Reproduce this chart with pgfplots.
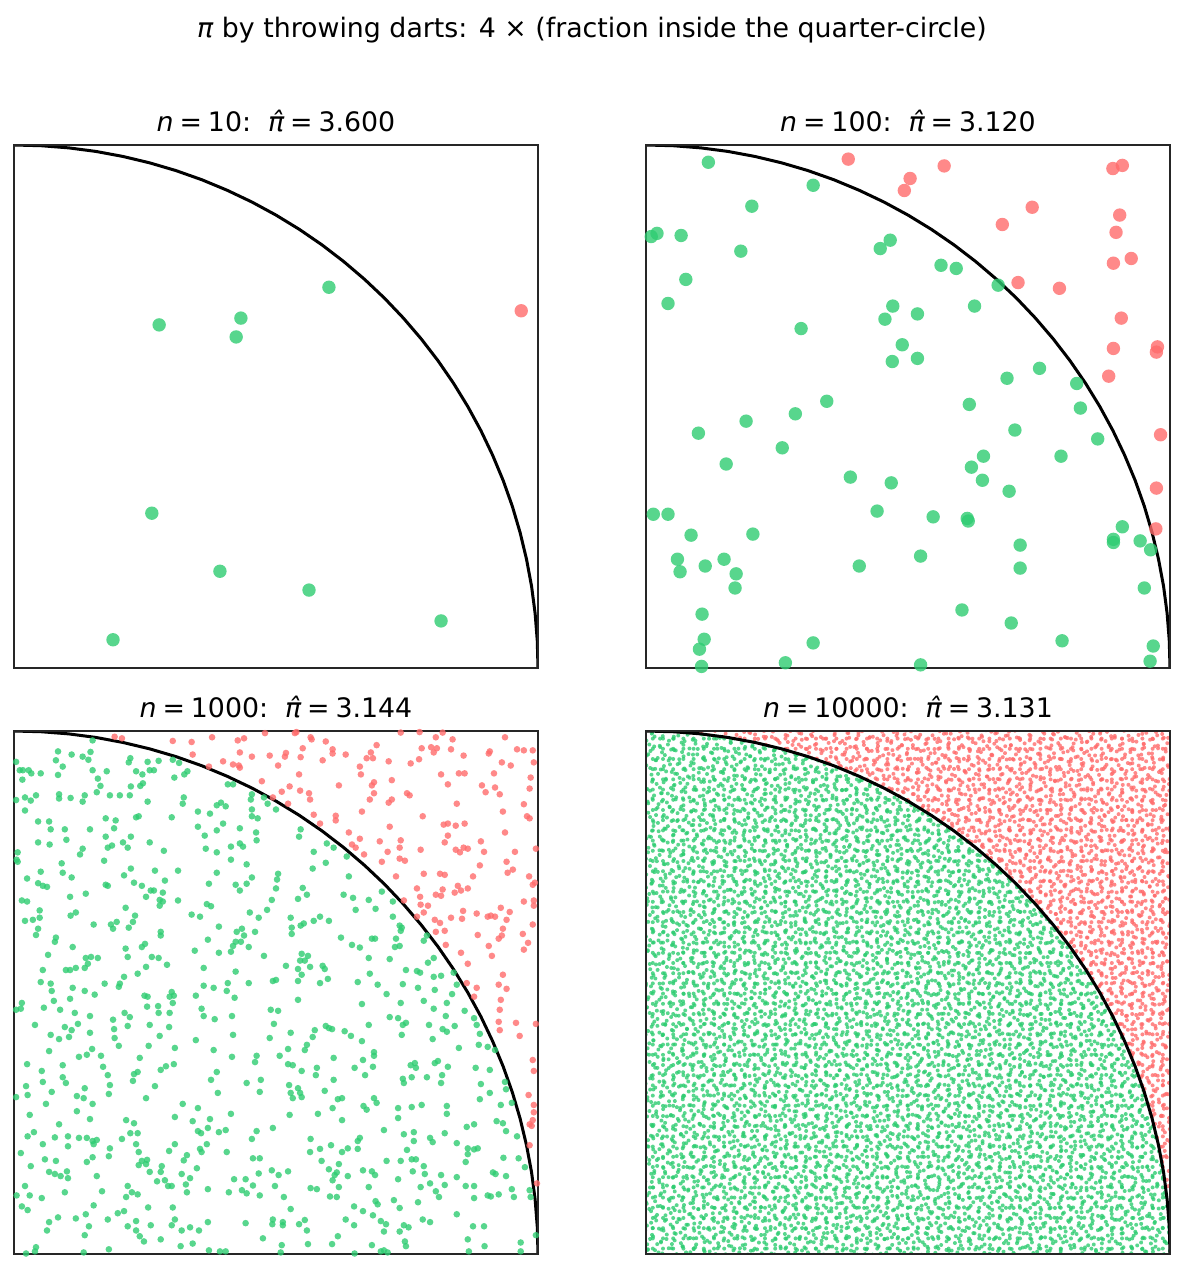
\documentclass[border=0pt]{standalone}
\usepackage{fontspec}
\setmainfont{DejaVu Sans}
\usepackage{pgfplots}
\usepackage{pgfplotstable}
\pgfplotsset{compat=1.18}
\usetikzlibrary{patterns.meta}
\definecolor{dgreen}{HTML}{2ECC71}
\definecolor{dred}{HTML}{FF6B6B}

\pgfplotstableread{
x y
1.0000 0.0000
0.9986 0.0523
0.9945 0.1045
0.9877 0.1564
0.9781 0.2079
0.9659 0.2588
0.9511 0.3090
0.9336 0.3584
0.9135 0.4067
0.8910 0.4540
0.8660 0.5000
0.8387 0.5446
0.8090 0.5878
0.7771 0.6293
0.7431 0.6691
0.7071 0.7071
0.6691 0.7431
0.6293 0.7771
0.5878 0.8090
0.5446 0.8387
0.5000 0.8660
0.4540 0.8910
0.4067 0.9135
0.3584 0.9336
0.3090 0.9511
0.2588 0.9659
0.2079 0.9781
0.1564 0.9877
0.1045 0.9945
0.0523 0.9986
0.0000 1.0000
}\arctable

\pgfplotstableread{
x y
1.0000 0.0000
0.9986 0.0523
0.9945 0.1045
0.9877 0.1564
0.9781 0.2079
0.9659 0.2588
0.9511 0.3090
0.9336 0.3584
0.9135 0.4067
0.8910 0.4540
0.8660 0.5000
0.8387 0.5446
0.8090 0.5878
0.7771 0.6293
0.7431 0.6691
0.7071 0.7071
0.6691 0.7431
0.6293 0.7771
0.5878 0.8090
0.5446 0.8387
0.5000 0.8660
0.4540 0.8910
0.4067 0.9135
0.3584 0.9336
0.3090 0.9511
0.2588 0.9659
0.2079 0.9781
0.1564 0.9877
0.1045 0.9945
0.0523 0.9986
0.0000 1.0000
0.0000 0.0000
}\insidetable

\pgfplotstableread{
x y
1.0000 0.0000
0.9986 0.0523
0.9945 0.1045
0.9877 0.1564
0.9781 0.2079
0.9659 0.2588
0.9511 0.3090
0.9336 0.3584
0.9135 0.4067
0.8910 0.4540
0.8660 0.5000
0.8387 0.5446
0.8090 0.5878
0.7771 0.6293
0.7431 0.6691
0.7071 0.7071
0.6691 0.7431
0.6293 0.7771
0.5878 0.8090
0.5446 0.8387
0.5000 0.8660
0.4540 0.8910
0.4067 0.9135
0.3584 0.9336
0.3090 0.9511
0.2588 0.9659
0.2079 0.9781
0.1564 0.9877
0.1045 0.9945
0.0523 0.9986
0.0000 1.0000
1.0000 1.0000
}\outsidetable

\pgfplotsset{
  dart/.style={width=262pt, height=261.5pt, scale only axis,
    xmin=0, xmax=1, ymin=0, ymax=1, xtick=\empty, ytick=\empty,
    axis on top, axis line style={line width=0.6pt, black!85},
    anchor=north west},
  quarter/.style={black, line width=1.5pt, no marks},
  gdot/.style={only marks, mark=*, mark size=#1, color=dgreen,
    mark options={solid, fill=dgreen, fill opacity=0.8, draw opacity=0, line width=0pt}},
  rdot/.style={only marks, mark=*, mark size=#1, color=dred,
    mark options={solid, fill=dred, fill opacity=0.8, draw opacity=0, line width=0pt}},
  cloud/.style n args={5}{draw=none, fill opacity=0.8, pattern color=#1,
    pattern={Dots[radius=1pt, distance=#2, angle=#3, xshift=#4, yshift=#5]}},
}

\newcommand{\ttl}[2]{\fontsize{13.4}{15}\selectfont{\itshape n}\hspace{0.22em}=\hspace{0.22em}#1:\ \ {\itshape π^^^^0302}\hspace{0.22em}=\hspace{0.22em}#2}

\begin{document}
\begin{tikzpicture}
\path[use as bounding box] (0,0) rectangle (592pt,-634.5pt);

\node[anchor=base] at (296pt,-18.5pt) {\fontsize{13.4}{15}\selectfont{\itshape π} by throwing darts: 4 × (fraction inside the quarter-circle)};
\node[anchor=base] at (138pt,-65.5pt) {\ttl{10}{3.600}};
\node[anchor=base] at (454pt,-65.5pt) {\ttl{100}{3.120}};
\node[anchor=base] at (138pt,-358.5pt) {\ttl{1000}{3.144}};
\node[anchor=base] at (454pt,-358.5pt) {\ttl{10000}{3.131}};

% ---------------- n = 10
\begin{axis}[dart, at={(7pt,-72.5pt)}]
\addplot[gdot=3.35pt] coordinates {(0.277,0.656) (0.433,0.669) (0.424,0.633) (0.601,0.728) (0.263,0.296) (0.393,0.185) (0.563,0.149) (0.815,0.090) (0.189,0.054)};
\addplot[rdot=3.35pt] coordinates {(0.968,0.683)};
\addplot[quarter] table {\arctable};
\end{axis}

% ---------------- n = 100
\begin{axis}[dart, at={(323pt,-72.5pt)}]
\addplot[gdot=3.35pt] coordinates {
(0.119,0.967) (0.319,0.923) (0.202,0.883) (0.010,0.825) (0.021,0.831) (0.067,0.827) (0.181,0.797) (0.076,0.743) (0.042,0.697) (0.447,0.802)
(0.466,0.818) (0.563,0.770) (0.592,0.764) (0.672,0.732) (0.627,0.692) (0.471,0.692) (0.456,0.667) (0.518,0.677) (0.296,0.649) (0.489,0.618)
(0.470,0.586) (0.518,0.592) (0.751,0.573) (0.689,0.554) (0.822,0.544) (0.345,0.510) (0.617,0.504) (0.829,0.497) (0.285,0.486) (0.191,0.472)
(0.100,0.449) (0.704,0.455) (0.862,0.438) (0.260,0.421) (0.153,0.390) (0.644,0.405) (0.621,0.384) (0.792,0.405) (0.642,0.359) (0.693,0.338)
(0.390,0.365) (0.468,0.354) (0.441,0.300) (0.548,0.289) (0.613,0.286) (0.615,0.281) (0.014,0.294) (0.042,0.294) (0.086,0.254) (0.204,0.256)
(0.909,0.270) (0.892,0.246) (0.892,0.240) (0.943,0.243) (0.963,0.226) (0.714,0.235) (0.524,0.214) (0.060,0.208) (0.113,0.195) (0.149,0.208)
(0.065,0.184) (0.172,0.180) (0.170,0.153) (0.407,0.195) (0.714,0.191) (0.951,0.153) (0.107,0.103) (0.603,0.111) (0.697,0.086) (0.111,0.055)
(0.102,0.036) (0.319,0.048) (0.794,0.052) (0.968,0.042) (0.106,0.003) (0.266,0.010) (0.524,0.006) (0.962,0.013)};
\addplot[rdot=3.35pt] coordinates {
(0.386,0.973) (0.504,0.936) (0.493,0.913) (0.569,0.960) (0.891,0.955) (0.909,0.961) (0.737,0.881) (0.680,0.848) (0.904,0.866) (0.897,0.833)
(0.892,0.774) (0.926,0.783) (0.710,0.737) (0.789,0.726) (0.907,0.669) (0.892,0.611) (0.976,0.614) (0.974,0.604) (0.883,0.558) (0.982,0.446)
(0.974,0.344) (0.973,0.266)};
\addplot[quarter] table {\arctable};
\end{axis}

% ---------------- n = 1000
\begin{axis}[dart, at={(7pt,-365.5pt)}]
\addplot[gdot=1.65pt] coordinates {
(0.150,0.982) (0.084,0.961) (0.110,0.955) (0.146,0.960) (0.131,0.951) (0.142,0.945) (0.080,0.944) (0.093,0.932) (0.004,0.941) (0.222,0.948)
(0.219,0.940) (0.255,0.941) (0.276,0.943) (0.303,0.945) (0.315,0.939) (0.011,0.925) (0.017,0.925) (0.028,0.925) (0.033,0.919) (0.016,0.907)
(0.051,0.919) (0.084,0.916) (0.150,0.925) (0.177,0.923) (0.233,0.923) (0.245,0.917) (0.259,0.925) (0.267,0.925) (0.325,0.917) (0.306,0.911)
(0.160,0.909) (0.165,0.895) (0.158,0.883) (0.223,0.894) (0.241,0.895) (0.246,0.900) (0.004,0.868) (0.021,0.873) (0.032,0.867) (0.042,0.877)
(0.021,0.848) (0.086,0.879) (0.086,0.871) (0.108,0.872) (0.135,0.877) (0.131,0.865) (0.183,0.877) (0.202,0.877) (0.221,0.877) (0.255,0.865)
(0.324,0.873) (0.322,0.861) (0.233,0.835) (0.238,0.837) (0.301,0.835) (0.175,0.833) (0.194,0.829) (0.046,0.827) (0.067,0.827) (0.070,0.812)
(0.097,0.812) (0.145,0.812) (0.191,0.814) (0.100,0.792) (0.175,0.798) (0.223,0.798) (0.046,0.787) (0.068,0.783) (0.131,0.775) (0.126,0.764)
(0.179,0.777) (0.187,0.781) (0.208,0.787) (0.217,0.777) (0.259,0.787) (0.286,0.771) (0.007,0.768) (0.005,0.754) (0.007,0.750) (0.172,0.752)
(0.091,0.747) (0.093,0.729) (0.051,0.731) (0.025,0.718) (0.110,0.720) (0.210,0.724) (0.223,0.737) (0.269,0.733) (0.313,0.733) (0.288,0.714)
(0.046,0.709) (0.055,0.704) (0.063,0.702) (0.175,0.706) (0.179,0.704) (0.229,0.710) (0.244,0.704) (0.261,0.695) (0.267,0.695) (0.284,0.691)
(0.137,0.689) (0.107,0.683) (0.252,0.683) (0.278,0.677) (0.284,0.674) (0.313,0.676) (0.015,0.676) (0.025,0.674)
(0.331,0.923) (0.408,0.898) (0.418,0.898) (0.454,0.879) (0.452,0.869) (0.477,0.873) (0.484,0.861) (0.500,0.850) (0.387,0.858) (0.395,0.863)
(0.404,0.856) (0.351,0.846) (0.374,0.842) (0.454,0.850) (0.454,0.837) (0.465,0.833) (0.351,0.817) (0.399,0.823) (0.387,0.810) (0.431,0.814)
(0.364,0.800) (0.462,0.806) (0.463,0.791) (0.547,0.812) (0.544,0.798) (0.366,0.775) (0.414,0.779) (0.431,0.785) (0.437,0.779) (0.387,0.768)
(0.414,0.754) (0.444,0.745) (0.597,0.785) (0.610,0.777) (0.572,0.769) (0.635,0.760) (0.595,0.748) (0.570,0.737) (0.387,0.729) (0.504,0.727)
(0.502,0.716) (0.454,0.720) (0.372,0.708) (0.423,0.706) (0.444,0.708) (0.431,0.695) (0.500,0.699) (0.551,0.700) (0.559,0.687) (0.639,0.722)
(0.629,0.687) (0.647,0.681) (0.492,0.677) (0.542,0.679) (0.702,0.693) (0.677,0.677) (0.723,0.674)
(0.049,0.657) (0.049,0.643) (0.036,0.639) (0.021,0.637) (0.046,0.622) (0.042,0.610) (0.080,0.605) (0.078,0.597) (0.108,0.647) (0.118,0.653)
(0.152,0.630) (0.213,0.662) (0.231,0.647) (0.227,0.635) (0.196,0.635) (0.185,0.630) (0.189,0.622) (0.219,0.624) (0.278,0.666) (0.280,0.616)
(0.280,0.609) (0.112,0.587) (0.065,0.572) (0.213,0.584) (0.217,0.568) (0.244,0.587) (0.250,0.593) (0.263,0.568) (0.276,0.566) (0.292,0.553)
(0.137,0.566) (0.147,0.568) (0.160,0.566) (0.141,0.555) (0.135,0.547) (0.118,0.547) (0.099,0.543) (0.107,0.543) (0.055,0.543) (0.252,0.549)
(0.236,0.536) (0.210,0.530) (0.051,0.520) (0.070,0.517) (0.072,0.503) (0.112,0.509) (0.135,0.503) (0.154,0.496) (0.173,0.517) (0.202,0.517)
(0.200,0.511) (0.301,0.501) (0.297,0.492) (0.305,0.494) (0.249,0.494) (0.255,0.492) (0.303,0.480) (0.107,0.488) (0.076,0.484) (0.015,0.480)
(0.013,0.469) (0.004,0.467) (0.057,0.471) (0.088,0.467) (0.254,0.473) (0.275,0.474) (0.276,0.461) (0.297,0.461) (0.116,0.461) (0.145,0.455)
(0.211,0.461) (0.221,0.453) (0.189,0.448) (0.040,0.438) (0.097,0.434) (0.122,0.440) (0.110,0.428) (0.217,0.436) (0.191,0.430) (0.259,0.438)
(0.296,0.434) (0.070,0.419) (0.086,0.411) (0.105,0.415) (0.145,0.423) (0.192,0.413) (0.278,0.417) (0.200,0.398) (0.257,0.398) (0.307,0.394)
(0.067,0.388) (0.149,0.392) (0.139,0.381) (0.124,0.377) (0.166,0.379) (0.240,0.375) (0.025,0.363) (0.093,0.361) (0.170,0.358) (0.290,0.359)
(0.305,0.363) (0.053,0.350) (0.280,0.352) (0.236,0.348) (0.229,0.344) (0.093,0.338) (0.179,0.342)
(0.368,0.669) (0.376,0.665) (0.339,0.649) (0.355,0.645) (0.450,0.653) (0.467,0.643) (0.483,0.658) (0.528,0.643) (0.652,0.658) (0.391,0.626)
(0.425,0.616) (0.435,0.622) (0.439,0.609) (0.460,0.616) (0.530,0.624) (0.530,0.612) (0.547,0.628) (0.553,0.632) (0.572,0.637) (0.584,0.645)
(0.601,0.637) (0.370,0.601) (0.423,0.597) (0.433,0.597) (0.418,0.589) (0.414,0.578) (0.448,0.587) (0.345,0.580) (0.391,0.576) (0.477,0.570)
(0.624,0.605) (0.645,0.591) (0.660,0.586) (0.549,0.574) (0.561,0.570) (0.546,0.561) (0.555,0.561) (0.565,0.549) (0.542,0.545) (0.549,0.534)
(0.542,0.522) (0.519,0.551) (0.589,0.551) (0.593,0.545) (0.599,0.526) (0.584,0.518) (0.362,0.547) (0.423,0.540) (0.408,0.518) (0.448,0.518)
(0.494,0.522) (0.500,0.524) (0.656,0.520) (0.362,0.513) (0.381,0.509) (0.406,0.503) (0.347,0.494) (0.421,0.490) (0.542,0.486) (0.358,0.469)
(0.362,0.455) (0.383,0.449) (0.416,0.455) (0.490,0.467) (0.504,0.465) (0.496,0.440) (0.595,0.436) (0.601,0.432) (0.607,0.430) (0.574,0.428)
(0.570,0.415) (0.528,0.423) (0.631,0.426) (0.643,0.417) (0.347,0.409) (0.418,0.419) (0.488,0.413) (0.559,0.400) (0.555,0.390) (0.523,0.392)
(0.381,0.390) (0.416,0.377) (0.463,0.379) (0.460,0.367) (0.507,0.379) (0.610,0.375) (0.523,0.363) (0.532,0.361) (0.578,0.356) (0.549,0.350)
(0.576,0.342) (0.650,0.356) (0.387,0.348)
(0.690,0.660) (0.723,0.645) (0.736,0.628) (0.740,0.624) (0.738,0.618) (0.683,0.603) (0.689,0.603) (0.729,0.603) (0.727,0.587) (0.736,0.589)
(0.782,0.599) (0.788,0.609) (0.717,0.564) (0.677,0.566) (0.790,0.557) (0.801,0.566) (0.748,0.543) (0.769,0.541) (0.775,0.538) (0.679,0.536)
(0.801,0.530) (0.815,0.532) (0.839,0.538) (0.742,0.516) (0.694,0.515) (0.771,0.509) (0.803,0.505) (0.845,0.515) (0.836,0.497) (0.711,0.497)
(0.664,0.478) (0.738,0.480) (0.782,0.484) (0.826,0.480) (0.801,0.469) (0.860,0.465) (0.717,0.453) (0.733,0.451) (0.824,0.455) (0.878,0.451)
(0.677,0.438) (0.742,0.438) (0.748,0.442) (0.792,0.438) (0.841,0.436) (0.883,0.438) (0.818,0.430) (0.826,0.425) (0.740,0.419) (0.889,0.421)
(0.664,0.407) (0.799,0.411) (0.849,0.394) (0.887,0.400) (0.904,0.396) (0.918,0.390) (0.687,0.386) (0.687,0.379) (0.666,0.371) (0.685,0.358)
(0.757,0.361) (0.765,0.365) (0.767,0.356) (0.803,0.365) (0.809,0.369) (0.828,0.358) (0.881,0.356) (0.908,0.352) (0.670,0.342) (0.759,0.338)
(0.788,0.338) (0.817,0.342)
(0.055,0.329) (0.023,0.321) (0.099,0.327) (0.227,0.331) (0.183,0.323) (0.135,0.317) (0.072,0.310) (0.026,0.304) (0.004,0.300) (0.120,0.302)
(0.133,0.298) (0.181,0.306) (0.269,0.321) (0.252,0.298) (0.061,0.287) (0.150,0.287) (0.322,0.287) (0.120,0.273) (0.030,0.266) (0.145,0.258)
(0.214,0.256) (0.229,0.250) (0.307,0.262) (0.086,0.248) (0.026,0.225) (0.038,0.233) (0.078,0.223) (0.103,0.225) (0.055,0.210) (0.103,0.206)
(0.124,0.222) (0.139,0.222) (0.150,0.216) (0.158,0.218) (0.152,0.210) (0.222,0.231) (0.236,0.231) (0.206,0.220) (0.233,0.210) (0.183,0.202)
(0.181,0.187) (0.238,0.195) (0.307,0.210) (0.296,0.197) (0.013,0.193) (0.059,0.181) (0.080,0.178) (0.150,0.185) (0.139,0.176) (0.244,0.178)
(0.254,0.180) (0.238,0.170) (0.252,0.172) (0.324,0.179) (0.032,0.168) (0.282,0.168) (0.259,0.157) (0.280,0.157) (0.067,0.157) (0.078,0.153)
(0.089,0.149) (0.101,0.158) (0.103,0.145) (0.158,0.149) (0.320,0.153) (0.273,0.139) (0.288,0.141) (0.294,0.130) (0.301,0.130) (0.328,0.133)
(0.021,0.130) (0.217,0.130) (0.097,0.118) (0.005,0.112) (0.030,0.112) (0.168,0.120) (0.225,0.118) (0.236,0.114) (0.214,0.109) (0.053,0.107)
(0.015,0.091) (0.026,0.084) (0.152,0.093) (0.256,0.089) (0.303,0.089) (0.198,0.078) (0.210,0.082) (0.137,0.076) (0.084,0.070) (0.118,0.068)
(0.179,0.066) (0.067,0.061) (0.233,0.063) (0.307,0.066) (0.143,0.053) (0.217,0.053) (0.261,0.055) (0.301,0.055) (0.063,0.045) (0.233,0.045)
(0.320,0.045) (0.135,0.036) (0.240,0.034) (0.248,0.024) (0.280,0.028) (0.318,0.015) (0.042,0.013) (0.040,0.005) (0.023,0.001) (0.133,0.003)
(0.181,0.009)
(0.376,0.333) (0.444,0.327) (0.471,0.333) (0.469,0.310) (0.389,0.308) (0.525,0.323) (0.542,0.317) (0.528,0.308) (0.546,0.308) (0.532,0.298)
(0.549,0.300) (0.610,0.333) (0.593,0.312) (0.618,0.296) (0.626,0.298) (0.608,0.279) (0.580,0.268) (0.626,0.256) (0.351,0.279) (0.414,0.268)
(0.526,0.266) (0.341,0.254) (0.374,0.258) (0.370,0.241) (0.351,0.235) (0.357,0.231) (0.391,0.233) (0.404,0.237) (0.494,0.241) (0.463,0.235)
(0.454,0.220) (0.368,0.210) (0.355,0.201) (0.358,0.195) (0.406,0.195) (0.330,0.189) (0.566,0.220) (0.565,0.195) (0.584,0.201) (0.605,0.208)
(0.637,0.202) (0.626,0.195) (0.656,0.216) (0.660,0.222) (0.656,0.201) (0.456,0.183) (0.469,0.183) (0.587,0.178) (0.620,0.172) (0.601,0.162)
(0.616,0.156) (0.612,0.151) (0.608,0.141) (0.637,0.149) (0.349,0.164) (0.492,0.160) (0.523,0.158) (0.467,0.154) (0.505,0.151) (0.420,0.143)
(0.442,0.143) (0.336,0.145) (0.456,0.131) (0.498,0.130) (0.620,0.128) (0.566,0.126) (0.578,0.124) (0.370,0.124) (0.410,0.118) (0.435,0.122)
(0.444,0.116) (0.469,0.112) (0.515,0.109) (0.330,0.118) (0.603,0.110) (0.616,0.109) (0.649,0.091) (0.528,0.086) (0.370,0.061) (0.442,0.059)
(0.494,0.066) (0.493,0.057) (0.513,0.061) (0.513,0.055) (0.544,0.057) (0.555,0.065) (0.559,0.045) (0.633,0.066) (0.649,0.055) (0.336,0.051)
(0.353,0.045) (0.475,0.030) (0.618,0.034) (0.341,0.020) (0.511,0.017) (0.561,0.019) (0.607,0.019) (0.372,0.007) (0.393,0.005) (0.404,0.005)
(0.509,0.003) (0.650,0.001)
(0.742,0.335) (0.744,0.327) (0.815,0.327) (0.891,0.325) (0.908,0.308) (0.937,0.329) (0.939,0.315) (0.687,0.298) (0.692,0.289) (0.667,0.283)
(0.673,0.276) (0.733,0.279) (0.733,0.260) (0.759,0.281) (0.778,0.285) (0.826,0.283) (0.826,0.268) (0.889,0.296) (0.929,0.285) (0.950,0.289)
(0.706,0.237) (0.744,0.229) (0.763,0.233) (0.763,0.216) (0.864,0.243) (0.878,0.248) (0.921,0.254) (0.933,0.250) (0.939,0.235) (0.960,0.225)
(0.822,0.231) (0.794,0.222) (0.799,0.214) (0.845,0.212) (0.750,0.199) (0.866,0.202) (0.878,0.200) (0.885,0.202) (0.866,0.191) (0.862,0.176)
(0.711,0.178) (0.738,0.178) (0.759,0.181) (0.767,0.181) (0.782,0.168) (0.761,0.158) (0.784,0.153) (0.815,0.151) (0.845,0.147) (0.666,0.160)
(0.683,0.158) (0.689,0.151) (0.934,0.184) (0.963,0.183) (0.975,0.166) (0.914,0.156) (0.919,0.153) (0.939,0.149) (0.733,0.143) (0.794,0.135)
(0.822,0.132) (0.862,0.130) (0.878,0.130) (0.776,0.128) (0.677,0.128) (0.805,0.120) (0.811,0.109) (0.878,0.107) (0.904,0.112) (0.910,0.110)
(0.925,0.114) (0.950,0.124) (0.954,0.109) (0.984,0.122) (0.986,0.109) (0.690,0.101) (0.694,0.095) (0.725,0.103) (0.771,0.099) (0.736,0.088)
(0.666,0.082) (0.685,0.074) (0.845,0.076) (0.700,0.063) (0.710,0.057) (0.780,0.066) (0.794,0.061) (0.744,0.055) (0.753,0.051) (0.706,0.043)
(0.736,0.043) (0.876,0.053) (0.897,0.053) (0.996,0.036) (0.866,0.028) (0.746,0.024) (0.748,0.015) (0.683,0.017) (0.898,0.015) (0.967,0.022)
(0.967,0.005) (0.700,0.005) (0.706,0.007) (0.713,0.003) (0.868,0.005)};
\addplot[rdot=1.65pt] coordinates {
(0.192,0.989) (0.206,0.986) (0.303,0.981)
(0.339,0.979) (0.378,0.988) (0.341,0.955) (0.427,0.982) (0.439,0.986) (0.479,0.996) (0.536,0.996) (0.539,0.998) (0.566,0.988) (0.568,0.984)
(0.595,0.980) (0.431,0.959) (0.454,0.951) (0.488,0.953) (0.519,0.958) (0.517,0.951) (0.551,0.967) (0.547,0.950) (0.608,0.965) (0.608,0.957)
(0.633,0.955) (0.589,0.944) (0.399,0.942) (0.418,0.936) (0.429,0.934) (0.431,0.930) (0.372,0.932) (0.504,0.934) (0.544,0.917) (0.660,0.932)
(0.473,0.904) (0.526,0.894) (0.511,0.884) (0.546,0.886) (0.563,0.881) (0.565,0.869) (0.620,0.896) (0.494,0.873) (0.523,0.861) (0.572,0.840)
(0.614,0.838) (0.614,0.829) (0.584,0.823) (0.639,0.806) (0.660,0.794) (0.645,0.783) (0.652,0.777)
(0.738,0.997) (0.774,0.998) (0.818,0.997) (0.805,0.988) (0.837,0.984) (0.937,0.988) (0.692,0.973) (0.681,0.959) (0.673,0.948) (0.685,0.948)
(0.715,0.942) (0.778,0.967) (0.796,0.969) (0.807,0.967) (0.801,0.959) (0.834,0.965) (0.858,0.953) (0.773,0.946) (0.757,0.938) (0.906,0.957)
(0.908,0.961) (0.960,0.965) (0.973,0.963) (0.990,0.963) (0.931,0.940) (0.948,0.934) (0.992,0.940) (0.662,0.917) (0.815,0.917) (0.849,0.919)
(0.860,0.919) (0.916,0.919) (0.986,0.911) (0.721,0.906) (0.687,0.902) (0.683,0.896) (0.828,0.898) (0.893,0.896) (0.918,0.892) (0.984,0.890)
(0.687,0.881) (0.679,0.869) (0.750,0.881) (0.755,0.877) (0.900,0.883) (0.927,0.879) (0.721,0.869) (0.715,0.863) (0.845,0.861) (0.973,0.860)
(0.664,0.846) (0.933,0.846) (0.780,0.837) (0.979,0.837) (0.984,0.833) (0.820,0.821) (0.828,0.823) (0.843,0.819) (0.860,0.823) (0.717,0.817)
(0.937,0.806) (0.828,0.800) (0.698,0.789) (0.738,0.791) (0.822,0.787) (0.891,0.789) (0.736,0.777) (0.713,0.769) (0.776,0.773) (0.843,0.773)
(0.851,0.768) (0.858,0.777) (0.866,0.775) (0.897,0.769) (0.956,0.769) (0.996,0.775) (0.668,0.764) (0.736,0.756) (0.746,0.752) (0.702,0.750)
(0.889,0.743) (0.940,0.750) (0.729,0.722) (0.782,0.727) (0.813,0.727) (0.822,0.725) (0.876,0.722) (0.942,0.729) (0.952,0.735) (0.983,0.722)
(0.990,0.706) (0.994,0.710) (0.769,0.699) (0.818,0.697) (0.805,0.687) (0.815,0.685) (0.847,0.704) (0.841,0.691) (0.853,0.695) (0.866,0.699)
(0.775,0.683) (0.744,0.676) (0.973,0.674) (0.992,0.676)
(0.776,0.668) (0.790,0.666) (0.857,0.656) (0.929,0.662) (0.992,0.666) (0.782,0.653) (0.769,0.645) (0.803,0.639) (0.813,0.633) (0.834,0.643)
(0.855,0.641) (0.883,0.651) (0.904,0.645) (0.910,0.647) (0.918,0.645) (0.940,0.639) (0.946,0.654) (0.990,0.630) (0.805,0.616) (0.822,0.618)
(0.933,0.622) (0.931,0.609) (0.925,0.603) (0.885,0.610) (0.971,0.612) (0.981,0.595) (0.973,0.582) (0.824,0.591) (0.906,0.589) (0.912,0.570)
(0.853,0.576) (0.866,0.555) (0.933,0.534) (0.925,0.515) (0.940,0.507) (0.864,0.518) (0.883,0.509) (0.878,0.492) (0.929,0.486) (0.927,0.467)
(0.925,0.444) (0.927,0.428) (0.958,0.442) (0.965,0.417) (0.996,0.440) (0.990,0.371) (0.992,0.350)
(0.982,0.304) (0.992,0.285) (0.992,0.271) (0.990,0.256) (0.984,0.248) (0.988,0.245) (0.984,0.208) (0.998,0.135)};
\addplot[quarter] table {\arctable};
\end{axis}

% ---------------- n = 10000 (dense cloud drawn as dotted fills of the two regions)
\begin{axis}[dart, at={(323pt,-365.5pt)}]
\addplot[cloud={dgreen}{5.1pt}{0}{0pt}{0pt}] table {\insidetable};
\addplot[cloud={dgreen}{5.3pt}{29}{1.7pt}{0.9pt}] table {\insidetable};
\addplot[cloud={dgreen}{4.9pt}{53}{3.1pt}{2.3pt}] table {\insidetable};
\addplot[cloud={dgreen}{5.6pt}{77}{0.6pt}{3.7pt}] table {\insidetable};
\addplot[cloud={dred}{5.1pt}{0}{0pt}{0pt}] table {\outsidetable};
\addplot[cloud={dred}{5.3pt}{29}{1.7pt}{0.9pt}] table {\outsidetable};
\addplot[cloud={dred}{4.9pt}{53}{3.1pt}{2.3pt}] table {\outsidetable};
\addplot[cloud={dred}{5.6pt}{77}{0.6pt}{3.7pt}] table {\outsidetable};
\addplot[quarter] table {\arctable};
\end{axis}
\end{tikzpicture}
\end{document}
